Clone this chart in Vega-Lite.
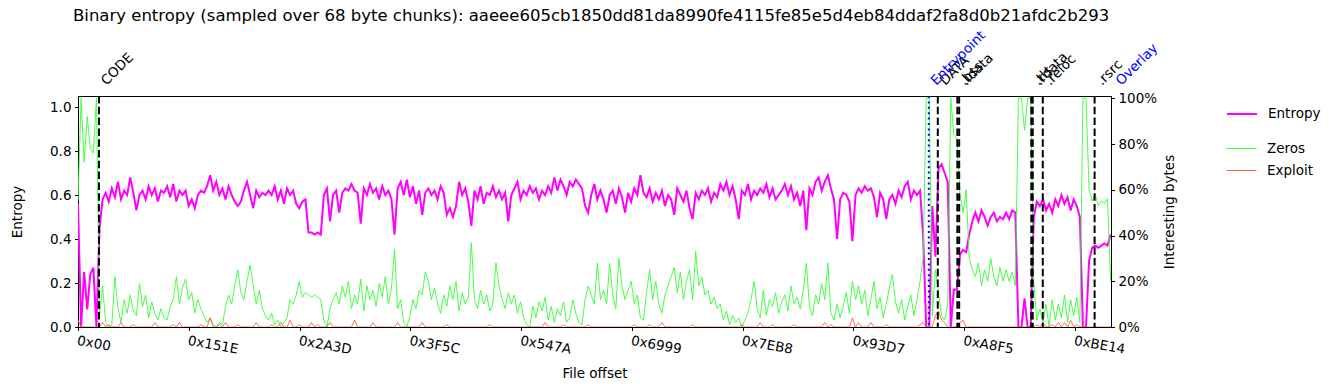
{
"$schema":"https://vega.github.io/schema/vega-lite/v6.json",
"width":1033,"height":231,
"autosize":{"type":"none"},
"padding":{"left":78,"top":96,"right":224,"bottom":63},
"title":{"text":"Binary entropy (sampled over 68 byte chunks): aaeee605cb1850dd81da8990fe4115fe85e5d4eb84ddaf2fa8d0b21afdc2b293","anchor":"start","frame":"group","fontSize":16.5,"fontWeight":"normal","font":"DejaVu Sans","color":"black","dx":-5,"offset":4},
"datasets":{
"samples":[
{"offset":0,"Entropy":0.56,"Zeros":0.55,"Exploit":0.03},
{"offset":150,"Entropy":0,"Zeros":1,"Exploit":0},
{"offset":300,"Entropy":0.25,"Zeros":0.72,"Exploit":0},
{"offset":450,"Entropy":0.08,"Zeros":0.92,"Exploit":0},
{"offset":600,"Entropy":0.24,"Zeros":0.78,"Exploit":0},
{"offset":750,"Entropy":0.27,"Zeros":0.76,"Exploit":0},
{"offset":900,"Entropy":0,"Zeros":1,"Exploit":0},
{"offset":1050,"Entropy":0.45,"Zeros":0.05,"Exploit":0},
{"offset":1200,"Entropy":0.58,"Zeros":0.18,"Exploit":0.02},
{"offset":1350,"Entropy":0.61,"Zeros":0.02,"Exploit":0},
{"offset":1500,"Entropy":0.57,"Zeros":0,"Exploit":0.01},
{"offset":1650,"Entropy":0.63,"Zeros":0.01,"Exploit":0},
{"offset":1800,"Entropy":0.59,"Zeros":0.22,"Exploit":0},
{"offset":1950,"Entropy":0.66,"Zeros":0.08,"Exploit":0},
{"offset":2100,"Entropy":0.58,"Zeros":0.02,"Exploit":0.02},
{"offset":2250,"Entropy":0.62,"Zeros":0.12,"Exploit":0},
{"offset":2400,"Entropy":0.60,"Zeros":0.06,"Exploit":0},
{"offset":2550,"Entropy":0.68,"Zeros":0.14,"Exploit":0},
{"offset":2700,"Entropy":0.61,"Zeros":0.07,"Exploit":0.01},
{"offset":2850,"Entropy":0.53,"Zeros":0.05,"Exploit":0},
{"offset":3000,"Entropy":0.60,"Zeros":0.19,"Exploit":0},
{"offset":3150,"Entropy":0.62,"Zeros":0.09,"Exploit":0},
{"offset":3300,"Entropy":0.58,"Zeros":0.14,"Exploit":0},
{"offset":3450,"Entropy":0.64,"Zeros":0.04,"Exploit":0},
{"offset":3600,"Entropy":0.60,"Zeros":0.11,"Exploit":0},
{"offset":3750,"Entropy":0.63,"Zeros":0.06,"Exploit":0.02},
{"offset":3900,"Entropy":0.57,"Zeros":0.03,"Exploit":0},
{"offset":4050,"Entropy":0.62,"Zeros":0.08,"Exploit":0},
{"offset":4200,"Entropy":0.61,"Zeros":0.04,"Exploit":0},
{"offset":4350,"Entropy":0.64,"Zeros":0.03,"Exploit":0},
{"offset":4500,"Entropy":0.59,"Zeros":0.09,"Exploit":0},
{"offset":4650,"Entropy":0.65,"Zeros":0.12,"Exploit":0.01},
{"offset":4800,"Entropy":0.57,"Zeros":0.22,"Exploit":0},
{"offset":4950,"Entropy":0.62,"Zeros":0.10,"Exploit":0.02},
{"offset":5100,"Entropy":0.60,"Zeros":0.17,"Exploit":0},
{"offset":5250,"Entropy":0.62,"Zeros":0.21,"Exploit":0},
{"offset":5400,"Entropy":0.55,"Zeros":0.12,"Exploit":0},
{"offset":5550,"Entropy":0.58,"Zeros":0.15,"Exploit":0},
{"offset":5700,"Entropy":0.54,"Zeros":0.06,"Exploit":0},
{"offset":5850,"Entropy":0.60,"Zeros":0.12,"Exploit":0},
{"offset":6000,"Entropy":0.62,"Zeros":0.08,"Exploit":0.01},
{"offset":6150,"Entropy":0.61,"Zeros":0.05,"Exploit":0},
{"offset":6300,"Entropy":0.64,"Zeros":0.02,"Exploit":0},
{"offset":6450,"Entropy":0.69,"Zeros":0.04,"Exploit":0.04},
{"offset":6600,"Entropy":0.62,"Zeros":0.01,"Exploit":0},
{"offset":6750,"Entropy":0.66,"Zeros":0,"Exploit":0},
{"offset":6900,"Entropy":0.60,"Zeros":0.02,"Exploit":0.01},
{"offset":7050,"Entropy":0.63,"Zeros":0.01,"Exploit":0},
{"offset":7200,"Entropy":0.58,"Zeros":0.09,"Exploit":0.02},
{"offset":7350,"Entropy":0.64,"Zeros":0.14,"Exploit":0},
{"offset":7500,"Entropy":0.60,"Zeros":0.10,"Exploit":0},
{"offset":7650,"Entropy":0.57,"Zeros":0.18,"Exploit":0},
{"offset":7800,"Entropy":0.55,"Zeros":0.25,"Exploit":0.01},
{"offset":7950,"Entropy":0.57,"Zeros":0.15,"Exploit":0},
{"offset":8100,"Entropy":0.62,"Zeros":0.12,"Exploit":0},
{"offset":8250,"Entropy":0.66,"Zeros":0.20,"Exploit":0},
{"offset":8400,"Entropy":0.60,"Zeros":0.27,"Exploit":0},
{"offset":8550,"Entropy":0.54,"Zeros":0.18,"Exploit":0},
{"offset":8700,"Entropy":0.62,"Zeros":0.10,"Exploit":0.02},
{"offset":8850,"Entropy":0.59,"Zeros":0.16,"Exploit":0},
{"offset":9000,"Entropy":0.61,"Zeros":0.08,"Exploit":0},
{"offset":9150,"Entropy":0.60,"Zeros":0.05,"Exploit":0},
{"offset":9300,"Entropy":0.62,"Zeros":0.03,"Exploit":0},
{"offset":9450,"Entropy":0.60,"Zeros":0.06,"Exploit":0.01},
{"offset":9600,"Entropy":0.64,"Zeros":0.01,"Exploit":0},
{"offset":9750,"Entropy":0.58,"Zeros":0.03,"Exploit":0},
{"offset":9900,"Entropy":0.62,"Zeros":0,"Exploit":0.02},
{"offset":10050,"Entropy":0.56,"Zeros":0.02,"Exploit":0},
{"offset":10200,"Entropy":0.63,"Zeros":0.04,"Exploit":0},
{"offset":10350,"Entropy":0.60,"Zeros":0.12,"Exploit":0.03},
{"offset":10500,"Entropy":0.62,"Zeros":0.10,"Exploit":0},
{"offset":10650,"Entropy":0.56,"Zeros":0.14,"Exploit":0},
{"offset":10800,"Entropy":0.54,"Zeros":0.20,"Exploit":0.01},
{"offset":10950,"Entropy":0.57,"Zeros":0.13,"Exploit":0},
{"offset":11100,"Entropy":0.58,"Zeros":0.15,"Exploit":0},
{"offset":11250,"Entropy":0.43,"Zeros":0.14,"Exploit":0},
{"offset":11400,"Entropy":0.43,"Zeros":0.13,"Exploit":0.02},
{"offset":11550,"Entropy":0.42,"Zeros":0.14,"Exploit":0},
{"offset":11700,"Entropy":0.43,"Zeros":0.13,"Exploit":0.01},
{"offset":11850,"Entropy":0.42,"Zeros":0.12,"Exploit":0},
{"offset":12000,"Entropy":0.60,"Zeros":0.03,"Exploit":0},
{"offset":12150,"Entropy":0.63,"Zeros":0,"Exploit":0},
{"offset":12300,"Entropy":0.48,"Zeros":0.08,"Exploit":0.02},
{"offset":12450,"Entropy":0.60,"Zeros":0.12,"Exploit":0},
{"offset":12600,"Entropy":0.62,"Zeros":0.15,"Exploit":0},
{"offset":12750,"Entropy":0.52,"Zeros":0.10,"Exploit":0},
{"offset":12900,"Entropy":0.61,"Zeros":0.18,"Exploit":0},
{"offset":13050,"Entropy":0.63,"Zeros":0.13,"Exploit":0},
{"offset":13200,"Entropy":0.62,"Zeros":0.20,"Exploit":0},
{"offset":13350,"Entropy":0.65,"Zeros":0.08,"Exploit":0},
{"offset":13500,"Entropy":0.62,"Zeros":0.14,"Exploit":0.03},
{"offset":13650,"Entropy":0.61,"Zeros":0.10,"Exploit":0},
{"offset":13800,"Entropy":0.47,"Zeros":0.21,"Exploit":0},
{"offset":13950,"Entropy":0.63,"Zeros":0.07,"Exploit":0},
{"offset":14100,"Entropy":0.60,"Zeros":0.18,"Exploit":0},
{"offset":14250,"Entropy":0.65,"Zeros":0.12,"Exploit":0},
{"offset":14400,"Entropy":0.61,"Zeros":0.16,"Exploit":0.02},
{"offset":14550,"Entropy":0.63,"Zeros":0.09,"Exploit":0},
{"offset":14700,"Entropy":0.58,"Zeros":0.19,"Exploit":0},
{"offset":14850,"Entropy":0.64,"Zeros":0.13,"Exploit":0},
{"offset":15000,"Entropy":0.60,"Zeros":0.22,"Exploit":0},
{"offset":15150,"Entropy":0.62,"Zeros":0.10,"Exploit":0},
{"offset":15300,"Entropy":0.58,"Zeros":0.17,"Exploit":0},
{"offset":15450,"Entropy":0.42,"Zeros":0.34,"Exploit":0},
{"offset":15600,"Entropy":0.63,"Zeros":0.08,"Exploit":0.02},
{"offset":15750,"Entropy":0.66,"Zeros":0.12,"Exploit":0},
{"offset":15900,"Entropy":0.60,"Zeros":0.02,"Exploit":0},
{"offset":16050,"Entropy":0.67,"Zeros":0,"Exploit":0},
{"offset":16200,"Entropy":0.59,"Zeros":0.05,"Exploit":0},
{"offset":16350,"Entropy":0.64,"Zeros":0.12,"Exploit":0},
{"offset":16500,"Entropy":0.56,"Zeros":0.08,"Exploit":0},
{"offset":16650,"Entropy":0.62,"Zeros":0.16,"Exploit":0},
{"offset":16800,"Entropy":0.51,"Zeros":0.14,"Exploit":0.02},
{"offset":16950,"Entropy":0.61,"Zeros":0.24,"Exploit":0},
{"offset":17100,"Entropy":0.63,"Zeros":0.20,"Exploit":0},
{"offset":17250,"Entropy":0.60,"Zeros":0.12,"Exploit":0},
{"offset":17400,"Entropy":0.62,"Zeros":0.17,"Exploit":0},
{"offset":17550,"Entropy":0.58,"Zeros":0.10,"Exploit":0},
{"offset":17700,"Entropy":0.64,"Zeros":0.06,"Exploit":0},
{"offset":17850,"Entropy":0.61,"Zeros":0.14,"Exploit":0},
{"offset":18000,"Entropy":0.51,"Zeros":0.09,"Exploit":0.01},
{"offset":18150,"Entropy":0.54,"Zeros":0.18,"Exploit":0},
{"offset":18300,"Entropy":0.50,"Zeros":0.12,"Exploit":0},
{"offset":18450,"Entropy":0.55,"Zeros":0.20,"Exploit":0},
{"offset":18600,"Entropy":0.66,"Zeros":0.07,"Exploit":0},
{"offset":18750,"Entropy":0.60,"Zeros":0.15,"Exploit":0},
{"offset":18900,"Entropy":0.63,"Zeros":0.10,"Exploit":0},
{"offset":19050,"Entropy":0.57,"Zeros":0.13,"Exploit":0},
{"offset":19200,"Entropy":0.46,"Zeros":0.37,"Exploit":0},
{"offset":19350,"Entropy":0.62,"Zeros":0.12,"Exploit":0},
{"offset":19500,"Entropy":0.58,"Zeros":0.08,"Exploit":0},
{"offset":19650,"Entropy":0.64,"Zeros":0.16,"Exploit":0},
{"offset":19800,"Entropy":0.56,"Zeros":0.10,"Exploit":0},
{"offset":19950,"Entropy":0.61,"Zeros":0.14,"Exploit":0},
{"offset":20100,"Entropy":0.60,"Zeros":0.07,"Exploit":0.01},
{"offset":20250,"Entropy":0.64,"Zeros":0.10,"Exploit":0},
{"offset":20400,"Entropy":0.59,"Zeros":0.28,"Exploit":0},
{"offset":20550,"Entropy":0.62,"Zeros":0.18,"Exploit":0},
{"offset":20700,"Entropy":0.58,"Zeros":0.12,"Exploit":0},
{"offset":20850,"Entropy":0.61,"Zeros":0.08,"Exploit":0},
{"offset":21000,"Entropy":0.48,"Zeros":0.15,"Exploit":0},
{"offset":21150,"Entropy":0.60,"Zeros":0.10,"Exploit":0},
{"offset":21300,"Entropy":0.63,"Zeros":0.14,"Exploit":0},
{"offset":21450,"Entropy":0.66,"Zeros":0.06,"Exploit":0},
{"offset":21600,"Entropy":0.58,"Zeros":0.11,"Exploit":0},
{"offset":21750,"Entropy":0.62,"Zeros":0.04,"Exploit":0},
{"offset":21900,"Entropy":0.60,"Zeros":0.01,"Exploit":0},
{"offset":22050,"Entropy":0.64,"Zeros":0,"Exploit":0},
{"offset":22200,"Entropy":0.61,"Zeros":0.09,"Exploit":0},
{"offset":22350,"Entropy":0.63,"Zeros":0.04,"Exploit":0},
{"offset":22500,"Entropy":0.58,"Zeros":0.11,"Exploit":0},
{"offset":22650,"Entropy":0.62,"Zeros":0.07,"Exploit":0},
{"offset":22800,"Entropy":0.60,"Zeros":0.13,"Exploit":0.02},
{"offset":22950,"Entropy":0.64,"Zeros":0.03,"Exploit":0},
{"offset":23100,"Entropy":0.61,"Zeros":0.09,"Exploit":0},
{"offset":23250,"Entropy":0.68,"Zeros":0.02,"Exploit":0},
{"offset":23400,"Entropy":0.62,"Zeros":0.08,"Exploit":0},
{"offset":23550,"Entropy":0.67,"Zeros":0.05,"Exploit":0},
{"offset":23700,"Entropy":0.64,"Zeros":0.11,"Exploit":0.01},
{"offset":23850,"Entropy":0.60,"Zeros":0.02,"Exploit":0},
{"offset":24000,"Entropy":0.66,"Zeros":0.04,"Exploit":0},
{"offset":24150,"Entropy":0.64,"Zeros":0.12,"Exploit":0},
{"offset":24300,"Entropy":0.67,"Zeros":0.06,"Exploit":0},
{"offset":24450,"Entropy":0.65,"Zeros":0.02,"Exploit":0},
{"offset":24600,"Entropy":0.63,"Zeros":0.01,"Exploit":0},
{"offset":24750,"Entropy":0.55,"Zeros":0.12,"Exploit":0},
{"offset":24900,"Entropy":0.52,"Zeros":0.18,"Exploit":0.01},
{"offset":25050,"Entropy":0.60,"Zeros":0.14,"Exploit":0},
{"offset":25200,"Entropy":0.65,"Zeros":0.10,"Exploit":0},
{"offset":25350,"Entropy":0.58,"Zeros":0.28,"Exploit":0},
{"offset":25500,"Entropy":0.62,"Zeros":0.12,"Exploit":0},
{"offset":25650,"Entropy":0.58,"Zeros":0.16,"Exploit":0},
{"offset":25800,"Entropy":0.52,"Zeros":0.10,"Exploit":0},
{"offset":25950,"Entropy":0.60,"Zeros":0.28,"Exploit":0},
{"offset":26100,"Entropy":0.62,"Zeros":0.14,"Exploit":0},
{"offset":26250,"Entropy":0.56,"Zeros":0.08,"Exploit":0},
{"offset":26400,"Entropy":0.63,"Zeros":0.30,"Exploit":0},
{"offset":26550,"Entropy":0.59,"Zeros":0.18,"Exploit":0},
{"offset":26700,"Entropy":0.52,"Zeros":0.12,"Exploit":0},
{"offset":26850,"Entropy":0.61,"Zeros":0.16,"Exploit":0},
{"offset":27000,"Entropy":0.57,"Zeros":0.20,"Exploit":0},
{"offset":27150,"Entropy":0.63,"Zeros":0.10,"Exploit":0.01},
{"offset":27300,"Entropy":0.60,"Zeros":0.14,"Exploit":0},
{"offset":27450,"Entropy":0.69,"Zeros":0.04,"Exploit":0},
{"offset":27600,"Entropy":0.61,"Zeros":0.03,"Exploit":0},
{"offset":27750,"Entropy":0.59,"Zeros":0.15,"Exploit":0},
{"offset":27900,"Entropy":0.63,"Zeros":0.25,"Exploit":0.01},
{"offset":28050,"Entropy":0.57,"Zeros":0.12,"Exploit":0},
{"offset":28200,"Entropy":0.61,"Zeros":0.20,"Exploit":0},
{"offset":28350,"Entropy":0.58,"Zeros":0.10,"Exploit":0},
{"offset":28500,"Entropy":0.62,"Zeros":0.06,"Exploit":0.02},
{"offset":28650,"Entropy":0.55,"Zeros":0.14,"Exploit":0},
{"offset":28800,"Entropy":0.60,"Zeros":0.18,"Exploit":0},
{"offset":28950,"Entropy":0.58,"Zeros":0.22,"Exploit":0},
{"offset":29100,"Entropy":0.51,"Zeros":0.26,"Exploit":0},
{"offset":29250,"Entropy":0.63,"Zeros":0.15,"Exploit":0},
{"offset":29400,"Entropy":0.60,"Zeros":0.24,"Exploit":0},
{"offset":29550,"Entropy":0.57,"Zeros":0.12,"Exploit":0},
{"offset":29700,"Entropy":0.62,"Zeros":0.20,"Exploit":0},
{"offset":29850,"Entropy":0.54,"Zeros":0.25,"Exploit":0},
{"offset":30000,"Entropy":0.49,"Zeros":0.12,"Exploit":0.01},
{"offset":30150,"Entropy":0.61,"Zeros":0.33,"Exploit":0},
{"offset":30300,"Entropy":0.58,"Zeros":0.18,"Exploit":0},
{"offset":30450,"Entropy":0.62,"Zeros":0.22,"Exploit":0},
{"offset":30600,"Entropy":0.60,"Zeros":0.14,"Exploit":0},
{"offset":30750,"Entropy":0.63,"Zeros":0.16,"Exploit":0},
{"offset":30900,"Entropy":0.57,"Zeros":0.10,"Exploit":0},
{"offset":31050,"Entropy":0.61,"Zeros":0.13,"Exploit":0},
{"offset":31200,"Entropy":0.59,"Zeros":0.08,"Exploit":0},
{"offset":31350,"Entropy":0.65,"Zeros":0.10,"Exploit":0},
{"offset":31500,"Entropy":0.62,"Zeros":0.03,"Exploit":0},
{"offset":31650,"Entropy":0.66,"Zeros":0.07,"Exploit":0},
{"offset":31800,"Entropy":0.60,"Zeros":0.01,"Exploit":0},
{"offset":31950,"Entropy":0.64,"Zeros":0.05,"Exploit":0},
{"offset":32100,"Entropy":0.58,"Zeros":0.02,"Exploit":0},
{"offset":32250,"Entropy":0.49,"Zeros":0.04,"Exploit":0},
{"offset":32400,"Entropy":0.62,"Zeros":0,"Exploit":0.01},
{"offset":32550,"Entropy":0.60,"Zeros":0.03,"Exploit":0},
{"offset":32700,"Entropy":0.65,"Zeros":0.06,"Exploit":0},
{"offset":32850,"Entropy":0.58,"Zeros":0.12,"Exploit":0},
{"offset":33000,"Entropy":0.62,"Zeros":0.20,"Exploit":0},
{"offset":33150,"Entropy":0.60,"Zeros":0.08,"Exploit":0},
{"offset":33300,"Entropy":0.63,"Zeros":0.04,"Exploit":0.02},
{"offset":33450,"Entropy":0.61,"Zeros":0.16,"Exploit":0},
{"offset":33600,"Entropy":0.65,"Zeros":0.05,"Exploit":0},
{"offset":33750,"Entropy":0.59,"Zeros":0.12,"Exploit":0},
{"offset":33900,"Entropy":0.63,"Zeros":0.09,"Exploit":0.01},
{"offset":34050,"Entropy":0.58,"Zeros":0.15,"Exploit":0},
{"offset":34200,"Entropy":0.60,"Zeros":0.06,"Exploit":0},
{"offset":34350,"Entropy":0.62,"Zeros":0.11,"Exploit":0},
{"offset":34500,"Entropy":0.65,"Zeros":0.14,"Exploit":0},
{"offset":34650,"Entropy":0.60,"Zeros":0.07,"Exploit":0},
{"offset":34800,"Entropy":0.64,"Zeros":0.18,"Exploit":0},
{"offset":34950,"Entropy":0.58,"Zeros":0.10,"Exploit":0.01},
{"offset":35100,"Entropy":0.61,"Zeros":0.13,"Exploit":0},
{"offset":35250,"Entropy":0.55,"Zeros":0.08,"Exploit":0},
{"offset":35400,"Entropy":0.62,"Zeros":0.16,"Exploit":0},
{"offset":35550,"Entropy":0.44,"Zeros":0.28,"Exploit":0},
{"offset":35700,"Entropy":0.63,"Zeros":0.09,"Exploit":0},
{"offset":35850,"Entropy":0.60,"Zeros":0.05,"Exploit":0},
{"offset":36000,"Entropy":0.66,"Zeros":0.14,"Exploit":0},
{"offset":36150,"Entropy":0.68,"Zeros":0.10,"Exploit":0},
{"offset":36300,"Entropy":0.62,"Zeros":0.19,"Exploit":0},
{"offset":36450,"Entropy":0.66,"Zeros":0.12,"Exploit":0.02},
{"offset":36600,"Entropy":0.69,"Zeros":0.28,"Exploit":0},
{"offset":36750,"Entropy":0.63,"Zeros":0.06,"Exploit":0.01},
{"offset":36900,"Entropy":0.58,"Zeros":0.03,"Exploit":0},
{"offset":37050,"Entropy":0.40,"Zeros":0.10,"Exploit":0},
{"offset":37200,"Entropy":0.58,"Zeros":0.04,"Exploit":0},
{"offset":37350,"Entropy":0.61,"Zeros":0.09,"Exploit":0},
{"offset":37500,"Entropy":0.60,"Zeros":0.15,"Exploit":0},
{"offset":37650,"Entropy":0.57,"Zeros":0.06,"Exploit":0},
{"offset":37800,"Entropy":0.39,"Zeros":0.20,"Exploit":0.04},
{"offset":37950,"Entropy":0.60,"Zeros":0.12,"Exploit":0},
{"offset":38100,"Entropy":0.63,"Zeros":0.18,"Exploit":0.02},
{"offset":38250,"Entropy":0.61,"Zeros":0.10,"Exploit":0},
{"offset":38400,"Entropy":0.64,"Zeros":0.16,"Exploit":0},
{"offset":38550,"Entropy":0.62,"Zeros":0.05,"Exploit":0},
{"offset":38700,"Entropy":0.63,"Zeros":0.12,"Exploit":0.02},
{"offset":38850,"Entropy":0.59,"Zeros":0.20,"Exploit":0},
{"offset":39000,"Entropy":0.50,"Zeros":0.08,"Exploit":0},
{"offset":39150,"Entropy":0.61,"Zeros":0.13,"Exploit":0},
{"offset":39300,"Entropy":0.58,"Zeros":0.04,"Exploit":0},
{"offset":39450,"Entropy":0.49,"Zeros":0.10,"Exploit":0.01},
{"offset":39600,"Entropy":0.58,"Zeros":0.17,"Exploit":0},
{"offset":39750,"Entropy":0.60,"Zeros":0.23,"Exploit":0},
{"offset":39900,"Entropy":0.56,"Zeros":0.11,"Exploit":0},
{"offset":40050,"Entropy":0.62,"Zeros":0.06,"Exploit":0},
{"offset":40200,"Entropy":0.59,"Zeros":0.12,"Exploit":0},
{"offset":40350,"Entropy":0.64,"Zeros":0.03,"Exploit":0},
{"offset":40500,"Entropy":0.66,"Zeros":0.09,"Exploit":0},
{"offset":40650,"Entropy":0.58,"Zeros":0.14,"Exploit":0},
{"offset":40800,"Entropy":0.62,"Zeros":0.05,"Exploit":0},
{"offset":40950,"Entropy":0.60,"Zeros":0.12,"Exploit":0},
{"offset":41100,"Entropy":0.62,"Zeros":0.20,"Exploit":0.01},
{"offset":41250,"Entropy":0.42,"Zeros":0.30,"Exploit":0.02},
{"offset":41400,"Entropy":0,"Zeros":1,"Exploit":0},
{"offset":41550,"Entropy":0,"Zeros":1,"Exploit":0},
{"offset":41700,"Entropy":0.55,"Zeros":0.05,"Exploit":0},
{"offset":41850,"Entropy":0.32,"Zeros":0.25,"Exploit":0.05},
{"offset":42000,"Entropy":0.72,"Zeros":0.15,"Exploit":0.07},
{"offset":42150,"Entropy":0.74,"Zeros":0.05,"Exploit":0.03},
{"offset":42300,"Entropy":0.70,"Zeros":0.03,"Exploit":0.02},
{"offset":42450,"Entropy":0.66,"Zeros":0.10,"Exploit":0},
{"offset":42600,"Entropy":0,"Zeros":1,"Exploit":0},
{"offset":42750,"Entropy":0.17,"Zeros":0.84,"Exploit":0},
{"offset":42900,"Entropy":0.17,"Zeros":0.82,"Exploit":0},
{"offset":43050,"Entropy":0.33,"Zeros":0.58,"Exploit":0.02},
{"offset":43200,"Entropy":0.35,"Zeros":0.50,"Exploit":0.03},
{"offset":43350,"Entropy":0.34,"Zeros":0.60,"Exploit":0},
{"offset":43500,"Entropy":0.42,"Zeros":0.30,"Exploit":0},
{"offset":43650,"Entropy":0.48,"Zeros":0.25,"Exploit":0},
{"offset":43800,"Entropy":0.52,"Zeros":0.22,"Exploit":0},
{"offset":43950,"Entropy":0.48,"Zeros":0.28,"Exploit":0},
{"offset":44100,"Entropy":0.53,"Zeros":0.18,"Exploit":0},
{"offset":44250,"Entropy":0.50,"Zeros":0.25,"Exploit":0},
{"offset":44400,"Entropy":0.46,"Zeros":0.20,"Exploit":0},
{"offset":44550,"Entropy":0.50,"Zeros":0.30,"Exploit":0},
{"offset":44700,"Entropy":0.52,"Zeros":0.22,"Exploit":0},
{"offset":44850,"Entropy":0.48,"Zeros":0.18,"Exploit":0},
{"offset":45000,"Entropy":0.50,"Zeros":0.26,"Exploit":0},
{"offset":45150,"Entropy":0.49,"Zeros":0.20,"Exploit":0},
{"offset":45300,"Entropy":0.52,"Zeros":0.25,"Exploit":0},
{"offset":45450,"Entropy":0.49,"Zeros":0.20,"Exploit":0},
{"offset":45600,"Entropy":0.53,"Zeros":0.24,"Exploit":0},
{"offset":45750,"Entropy":0.52,"Zeros":0.18,"Exploit":0},
{"offset":45900,"Entropy":0,"Zeros":1,"Exploit":0},
{"offset":46050,"Entropy":0,"Zeros":1,"Exploit":0},
{"offset":46200,"Entropy":0.13,"Zeros":0.86,"Exploit":0},
{"offset":46350,"Entropy":0,"Zeros":1,"Exploit":0},
{"offset":46500,"Entropy":0,"Zeros":1,"Exploit":0},
{"offset":46650,"Entropy":0.50,"Zeros":0.20,"Exploit":0},
{"offset":46800,"Entropy":0.57,"Zeros":0.03,"Exploit":0.01},
{"offset":46950,"Entropy":0.55,"Zeros":0.08,"Exploit":0},
{"offset":47100,"Entropy":0.58,"Zeros":0.02,"Exploit":0.02},
{"offset":47250,"Entropy":0.53,"Zeros":0.10,"Exploit":0},
{"offset":47400,"Entropy":0.56,"Zeros":0,"Exploit":0},
{"offset":47550,"Entropy":0.52,"Zeros":0.12,"Exploit":0.01},
{"offset":47700,"Entropy":0.58,"Zeros":0.03,"Exploit":0},
{"offset":47850,"Entropy":0.55,"Zeros":0.10,"Exploit":0.02},
{"offset":48000,"Entropy":0.60,"Zeros":0.04,"Exploit":0},
{"offset":48150,"Entropy":0.56,"Zeros":0.14,"Exploit":0.02},
{"offset":48300,"Entropy":0.59,"Zeros":0.02,"Exploit":0},
{"offset":48450,"Entropy":0.53,"Zeros":0.12,"Exploit":0.03},
{"offset":48600,"Entropy":0.58,"Zeros":0.05,"Exploit":0},
{"offset":48750,"Entropy":0.55,"Zeros":0.13,"Exploit":0.01},
{"offset":48900,"Entropy":0.50,"Zeros":0.02,"Exploit":0},
{"offset":49050,"Entropy":0,"Zeros":1,"Exploit":0},
{"offset":49200,"Entropy":0,"Zeros":1,"Exploit":0},
{"offset":49350,"Entropy":0.30,"Zeros":0.60,"Exploit":0},
{"offset":49500,"Entropy":0.36,"Zeros":0.55,"Exploit":0},
{"offset":49650,"Entropy":0.37,"Zeros":0.58,"Exploit":0},
{"offset":49800,"Entropy":0.36,"Zeros":0.53,"Exploit":0},
{"offset":49950,"Entropy":0.37,"Zeros":0.55,"Exploit":0},
{"offset":50100,"Entropy":0.38,"Zeros":0.54,"Exploit":0},
{"offset":50250,"Entropy":0.37,"Zeros":0.56,"Exploit":0},
{"offset":50400,"Entropy":0.42,"Zeros":0.20,"Exploit":0}
],
"sections":[
{"name":"CODE","offset":1024,"kind":"section"},
{"name":"Entrypoint","offset":41527,"kind":"marker"},
{"name":"DATA","offset":41966,"kind":"section"},
{"name":".bss","offset":42920,"kind":"section"},
{"name":".idata","offset":43010,"kind":"section"},
{"name":".tls","offset":46530,"kind":"section"},
{"name":".rdata","offset":46600,"kind":"section"},
{"name":".reloc","offset":47090,"kind":"section"},
{"name":".rsrc","offset":49620,"kind":"section"},
{"name":"Overlay","offset":50560,"kind":"overlay"}
]
},
"layer":[
{"data":{"name":"samples"},
 "transform":[{"fold":["Entropy"],"as":["series","value"]}],
 "mark":{"type":"line","strokeWidth":2,"clip":true},
 "encoding":{
  "x":{"field":"offset","type":"quantitative","scale":{"domain":[0,50420],"nice":false,"zero":false},
   "axis":{"title":"File offset","values":[0,5406,10813,16220,21626,27033,32440,37847,43253,48660],"labelExpr":"'0x' + format(datum.value, '02X')","labelAngle":10,"labelAlign":"left","labelBaseline":"top","labelPadding":3,"tickSize":3.5,"titlePadding":10,"labelFlush":false,"labelOverlap":false}},
  "y":{"field":"value","type":"quantitative","scale":{"domain":[0,1.05],"nice":false},
   "axis":{"orient":"left","title":"Entropy","values":[0,0.2,0.4,0.6,0.8,1.0],"format":".1f","tickSize":3.5,"labelPadding":3.5,"titlePadding":25}},
  "color":{"field":"series","type":"nominal","scale":{"domain":["Entropy"],"range":["#ff00ff"]},
   "legend":{"title":null,"orient":"none","legendX":1148,"legendY":2,"symbolType":"stroke","symbolSize":900,"symbolStrokeWidth":2,"labelOffset":10,"padding":0}}
 }},
{"data":{"name":"samples"},
 "transform":[{"fold":["Zeros","Exploit"],"as":["series","value"]}],
 "mark":{"type":"line","strokeWidth":0.9,"clip":true},
 "encoding":{
  "x":{"field":"offset","type":"quantitative"},
  "y":{"field":"value","type":"quantitative","scale":{"domain":[0,1.01],"nice":false},
   "axis":{"orient":"right","title":"Interesting bytes","values":[0,0.2,0.4,0.6,0.8,1.0],"format":".0%","tickSize":3.5,"labelPadding":3.5,"titlePadding":20,"titleAngle":270}},
  "stroke":{"field":"series","type":"nominal","scale":{"domain":["Zeros","Exploit"],"range":["#33ff33","#ff6347"]},
   "legend":{"title":null,"orient":"none","legendX":1148,"legendY":37,"symbolType":"stroke","symbolSize":900,"symbolStrokeWidth":1,"labelOffset":10,"rowPadding":-9,"padding":0}}
 }},
{"data":{"name":"sections"},
 "transform":[{"filter":"datum.kind === 'section'"}],
 "mark":{"type":"rule","color":"black","strokeWidth":2,"strokeDash":[7.5,3.3]},
 "encoding":{"x":{"field":"offset","type":"quantitative"}}},
{"data":{"name":"sections"},
 "transform":[{"filter":"datum.kind === 'marker'"}],
 "mark":{"type":"rule","color":"blue","strokeWidth":2,"strokeDash":[2,3.4]},
 "encoding":{"x":{"field":"offset","type":"quantitative"}}},
{"data":{"name":"sections"},
 "transform":[{"filter":"datum.kind === 'section'"}],
 "mark":{"type":"text","angle":-45,"align":"left","baseline":"alphabetic","dx":12.3,"dy":-1.8,"fontSize":13.5,"font":"DejaVu Sans","color":"black","clip":false},
 "encoding":{"x":{"field":"offset","type":"quantitative"},"y":{"value":0},"text":{"field":"name"}}},
{"data":{"name":"sections"},
 "transform":[{"filter":"datum.kind !== 'section'"}],
 "mark":{"type":"text","angle":-45,"align":"left","baseline":"alphabetic","dx":12.3,"dy":-1.8,"fontSize":13.5,"font":"DejaVu Sans","color":"blue","clip":false},
 "encoding":{"x":{"field":"offset","type":"quantitative"},"y":{"value":0},"text":{"field":"name"}}}
],
"resolve":{"scale":{"y":"independent"}},
"config":{
 "font":"DejaVu Sans",
 "view":{"stroke":"black","strokeWidth":1},
 "axis":{"labelFont":"DejaVu Sans","titleFont":"DejaVu Sans","labelFontSize":13.5,"titleFontSize":13.5,"titleFontWeight":"normal","labelColor":"black","titleColor":"black","tickColor":"black","domainColor":"black","grid":false,"tickWidth":1,"domainWidth":1},
 "legend":{"labelFont":"DejaVu Sans","labelFontSize":13.5,"labelColor":"black"}
}
}
